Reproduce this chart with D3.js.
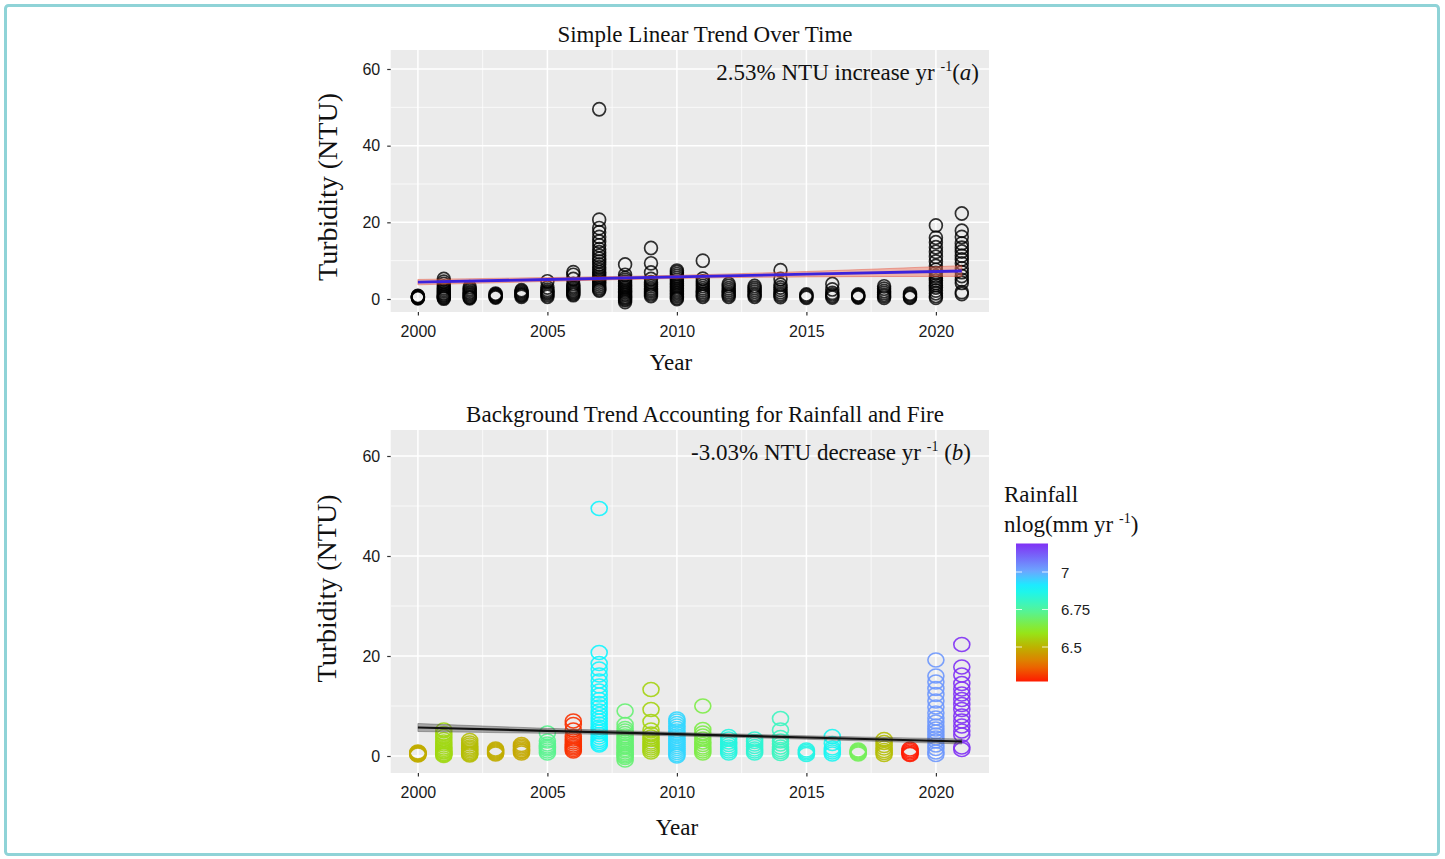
<!DOCTYPE html>
<html>
<head>
<meta charset="utf-8">
<script src="https://cdn.jsdelivr.net/npm/d3@7"></script>
<style>
  body { margin: 0; background: #fff; }
  svg { display: block; }
</style>
</head>
<body>
<svg id="chart" width="1445" height="859"></svg>
<script>
// Sampling years
const years = [2000, 2001, 2002, 2003, 2004, 2005, 2006, 2007, 2008, 2009, 2010,
               2011, 2012, 2013, 2014, 2015, 2016, 2017, 2018, 2019, 2020, 2021];

// Annual rainfall, nlog(mm yr^-1)
const rainfall = [6.49, 6.57, 6.52, 6.49, 6.48, 6.73, 6.30, 6.90, 6.70, 6.56, 6.94,
                  6.65, 6.85, 6.83, 6.80, 6.86, 6.88, 6.67, 6.52, 6.27, 7.03, 7.19];

// Turbidity samples (NTU) for each year
const turbidity = [
  [0.2, 0.3, 0.4, 0.5, 0.6, 0.7, 0.8],
  [0.1, 0.3, 0.5, 0.8, 1.0, 1.3, 1.6, 2.0, 2.4, 2.8, 3.3, 3.9, 4.5, 5.2],
  [0.2, 0.4, 0.6, 0.9, 1.2, 1.5, 1.8, 2.2, 2.6, 3.1],
  [0.4, 0.6, 0.8, 1.0, 1.2, 1.4],
  [0.6, 0.9, 1.1, 1.4, 1.7, 2.0, 2.3],
  [0.6, 1.0, 1.4, 1.7, 2.0, 2.4, 3.0, 4.6],
  [1.0, 1.3, 1.6, 1.9, 2.2, 2.6, 3.0, 3.4, 3.9, 5.2, 6.3, 7.0],
  [2.2, 2.5, 2.9, 3.3, 3.8, 4.3, 4.8, 5.3, 5.8, 6.4, 7.0, 7.6, 8.3, 9.0, 9.8,
   10.5, 11.3, 12.2, 13.0, 14.0, 15.0, 16.2, 17.4, 18.5, 20.7, 49.5],
  [-0.8, -0.3, 0.0, 0.3, 0.6, 1.0, 1.3, 1.7, 2.0, 2.4, 2.8, 3.2, 3.6, 4.0, 4.5,
   5.0, 5.5, 6.3, 9.0],
  [0.8, 1.2, 1.6, 2.0, 2.4, 2.8, 3.3, 3.8, 4.4, 5.2, 6.9, 9.3, 13.3],
  [0.0, 0.3, 0.7, 1.1, 1.5, 1.9, 2.3, 2.7, 3.1, 3.5, 4.0, 4.5, 5.0, 5.5, 6.0,
   6.5, 7.0, 7.4],
  [0.6, 1.0, 1.4, 1.8, 2.3, 2.8, 3.4, 4.0, 4.6, 5.3, 10.0],
  [0.6, 1.0, 1.4, 1.8, 2.3, 2.8, 3.4, 3.9],
  [0.6, 1.0, 1.4, 1.9, 2.4, 2.9, 3.4],
  [0.5, 0.9, 1.3, 1.8, 2.4, 3.0, 3.7, 5.2, 7.5],
  [0.3, 0.6, 0.9, 1.2],
  [0.4, 0.8, 1.2, 1.6, 2.5, 3.9],
  [0.4, 0.6, 0.8, 1.0, 1.2],
  [0.3, 0.7, 1.1, 1.6, 2.1, 2.7, 3.3],
  [0.3, 0.5, 0.8, 1.1, 1.4],
  [0.3, 0.8, 1.5, 2.2, 3.0, 3.6, 4.2, 4.8, 5.4, 6.0, 6.8, 7.6, 8.6, 9.8, 11.0,
   12.3, 13.5, 14.8, 16.0, 19.2],
  [1.3, 1.8, 4.2, 5.0, 6.0, 7.0, 8.0, 9.3, 10.3, 11.3, 12.4, 13.4, 14.5, 16.2,
   17.8, 22.3]
];

// Fitted trends with confidence bands
const trendYears = [2000, 2005, 2010, 2015, 2021];
const trendSimple = [4.4, 5.09, 5.78, 6.47, 7.3];
const bandSimple = [0.7, 0.5, 0.4, 0.7, 1.4];
const trendBackground = [5.7, 5.03, 4.37, 3.7, 2.9];
const bandBackground = [0.8, 0.5, 0.35, 0.35, 0.5];

// Axis ticks
const xTicks = [2000, 2005, 2010, 2015, 2020];
const xMinor = [2002.5, 2007.5, 2012.5, 2017.5];
const yTicks = [0, 20, 40, 60];
const yMinor = [10, 30, 50];
const legendTicks = [6.5, 6.75, 7];

// Rainbow palette, low rainfall (red) to high rainfall (violet)
const palette = ["#ff1a00", "#e87000", "#bdb300", "#94e81a", "#50f5a0", "#10f5ff", "#6aaaff", "#8030f5"];
const paletteStops = [6.27, 6.38, 6.5, 6.6, 6.75, 6.9, 7.0, 7.19];

const svg = d3.select("#chart");
const serif = "'Liberation Serif', 'Times New Roman', serif";
const sans = "'Liberation Sans', Arial, sans-serif";

// Outer frame
svg.append("rect")
  .attr("x", 5.5).attr("y", 5.5).attr("width", 1433).attr("height", 849)
  .attr("rx", 3).attr("fill", "none").attr("stroke", "#8fd3d7").attr("stroke-width", 3);

const colour = d3.scaleLinear().domain(paletteStops).range(palette).clamp(true);

const points = [];
years.forEach((yr, i) => turbidity[i].forEach(v => points.push({ year: yr, value: v, rain: rainfall[i] })));

const trend = (fit, band) => trendYears.map((yr, i) => ({ year: yr, fit: fit[i], lo: fit[i] - band[i], hi: fit[i] + band[i] }));

const panelLeft = 390.7, panelRight = 989;
const x = d3.scaleLinear().domain([2000, 2020]).range([417.9, 935.9]);

function drawPanel(cfg) {
  const g = svg.append("g");
  const y = d3.scaleLinear().domain([0, 60]).range(cfg.yRange);
  const [pTop, pBottom] = cfg.panel;

  g.append("rect")
    .attr("x", panelLeft).attr("y", pTop)
    .attr("width", panelRight - panelLeft).attr("height", pBottom - pTop)
    .attr("fill", "#ebebeb");

  // grid
  g.selectAll(".gxm").data(xMinor).join("line")
    .attr("x1", d => x(d)).attr("x2", d => x(d)).attr("y1", pTop).attr("y2", pBottom)
    .attr("stroke", "#fff").attr("stroke-width", 0.7);
  g.selectAll(".gym").data(yMinor).join("line")
    .attr("x1", panelLeft).attr("x2", panelRight).attr("y1", d => y(d)).attr("y2", d => y(d))
    .attr("stroke", "#fff").attr("stroke-width", 0.7);
  g.selectAll(".gx").data(xTicks).join("line")
    .attr("x1", d => x(d)).attr("x2", d => x(d)).attr("y1", pTop).attr("y2", pBottom)
    .attr("stroke", "#fff").attr("stroke-width", 1.5);
  g.selectAll(".gy").data(yTicks).join("line")
    .attr("x1", panelLeft).attr("x2", panelRight).attr("y1", d => y(d)).attr("y2", d => y(d))
    .attr("stroke", "#fff").attr("stroke-width", 1.5);

  // axes
  const xAxis = g.append("g").attr("transform", `translate(0,${pBottom})`)
    .call(d3.axisBottom(x).tickValues(xTicks).tickFormat(d3.format("d")).tickSize(3.5).tickPadding(7));
  const yAxis = g.append("g").attr("transform", `translate(${panelLeft},0)`)
    .call(d3.axisLeft(y).tickValues(yTicks).tickSize(3.5).tickPadding(7));
  [xAxis, yAxis].forEach(a => {
    a.select(".domain").remove();
    a.selectAll(".tick line").attr("stroke", "#333").attr("stroke-width", 1.2);
    a.selectAll(".tick text").attr("fill", "#1a1a1a").style("font-family", sans).style("font-size", "16px");
  });
  xAxis.selectAll(".tick text").attr("dy", "0.9em");

  // points
  g.append("g").selectAll("ellipse").data(points).join("ellipse")
    .attr("cx", d => x(d.year)).attr("cy", d => y(d.value))
    .attr("rx", cfg.rx).attr("ry", cfg.ry)
    .attr("fill", "none")
    .attr("stroke", d => cfg.pointColour(d))
    .attr("stroke-opacity", cfg.pointOpacity)
    .attr("stroke-width", cfg.pointWidth);

  // trend band and line
  const t = cfg.trend;
  g.append("path").datum(t)
    .attr("d", d3.area().x(d => x(d.year)).y0(d => y(d.lo)).y1(d => y(d.hi)).curve(d3.curveMonotoneX))
    .attr("fill", cfg.bandFill).attr("fill-opacity", cfg.bandOpacity)
    .attr("stroke", cfg.bandEdge).attr("stroke-opacity", 0.5).attr("stroke-width", 0.8);
  g.append("path").datum(t)
    .attr("d", d3.line().x(d => x(d.year)).y(d => y(d.fit)))
    .attr("fill", "none").attr("stroke", cfg.lineColour).attr("stroke-width", cfg.lineWidth);

  // titles
  svg.append("text").attr("x", 705).attr("y", cfg.titleY).attr("text-anchor", "middle")
    .style("font-family", serif).style("font-size", "23px").attr("fill", "#111").text(cfg.title);

  const ann = svg.append("text").attr("x", cfg.annX).attr("y", cfg.annY).attr("text-anchor", "end")
    .style("font-family", serif).style("font-size", "23px").attr("fill", "#111");
  ann.append("tspan").text(cfg.annText + " yr ");
  ann.append("tspan").attr("dy", -9).style("font-size", "14px").text("-1");
  ann.append("tspan").attr("dy", 9).text(cfg.annGap + "(");
  ann.append("tspan").style("font-style", "italic").text(cfg.annLetter);
  ann.append("tspan").text(")");

  svg.append("text")
    .attr("transform", `translate(${cfg.yTitleX},${(pTop + pBottom) / 2 + cfg.yTitleShift}) rotate(-90)`)
    .attr("text-anchor", "middle").attr("dominant-baseline", "central")
    .style("font-family", serif).style("font-size", "28px").attr("fill", "#111")
    .text("Turbidity (NTU)");

  svg.append("text").attr("x", cfg.xTitleX).attr("y", cfg.xTitleY).attr("text-anchor", "middle")
    .style("font-family", serif).style("font-size", "23px").attr("fill", "#111").text("Year");
}

drawPanel({
  panel: [50, 312], yRange: [299, 69],
  rx: 6.4, ry: 6.6, pointWidth: 1.7, pointOpacity: 0.8,
  pointColour: () => "#000",
  trend: trend(trendSimple, bandSimple),
  bandFill: "#f27a63", bandEdge: "#e0402a", bandOpacity: 0.5, lineColour: "#3b22dc", lineWidth: 2.8,
  title: "Simple Linear Trend Over Time", titleY: 42,
  annText: "2.53% NTU increase", annGap: "", annLetter: "a", annX: 979, annY: 80,
  yTitleX: 327, yTitleShift: 6, xTitleX: 671, xTitleY: 370
});

drawPanel({
  panel: [430, 773], yRange: [756, 456],
  rx: 8, ry: 7, pointWidth: 1.6, pointOpacity: 0.9,
  pointColour: d => colour(d.rain),
  trend: trend(trendBackground, bandBackground),
  bandFill: "#555", bandEdge: "#444", bandOpacity: 0.45, lineColour: "#111", lineWidth: 2.2,
  title: "Background Trend Accounting for Rainfall and Fire", titleY: 422,
  annText: "-3.03% NTU decrease", annGap: " ", annLetter: "b", annX: 971, annY: 460,
  yTitleX: 326, yTitleShift: -13, xTitleX: 677, xTitleY: 835
});

// Rainfall colour bar
const rainExtent = d3.extent(rainfall);
const barY = d3.scaleLinear().domain([6.5, 7]).range([647, 572]);
const barX = 1016, barW = 32;
const defs = svg.append("defs");
const grad = defs.append("linearGradient").attr("id", "rainGrad")
  .attr("x1", 0).attr("y1", 1).attr("x2", 0).attr("y2", 0);
d3.range(0, 1.0001, 0.05).forEach(f => {
  grad.append("stop").attr("offset", f)
    .attr("stop-color", colour(rainExtent[0] + f * (rainExtent[1] - rainExtent[0])));
});
svg.append("rect").attr("x", barX).attr("y", barY(rainExtent[1]))
  .attr("width", barW).attr("height", barY(rainExtent[0]) - barY(rainExtent[1]))
  .attr("fill", "url(#rainGrad)");
const lt = svg.append("g").selectAll("g").data(legendTicks).join("g");
lt.append("line").attr("x1", barX).attr("x2", barX + 6).attr("y1", d => barY(d)).attr("y2", d => barY(d))
  .attr("stroke", "#fff").attr("stroke-opacity", 0.8);
lt.append("line").attr("x1", barX + barW - 6).attr("x2", barX + barW).attr("y1", d => barY(d)).attr("y2", d => barY(d))
  .attr("stroke", "#fff").attr("stroke-opacity", 0.8);
lt.append("text").attr("x", barX + barW + 13).attr("y", d => barY(d)).attr("dominant-baseline", "central")
  .style("font-family", sans).style("font-size", "15px").attr("fill", "#222").text(d => d);

svg.append("text").attr("x", 1004).attr("y", 502)
  .style("font-family", serif).style("font-size", "23px").attr("fill", "#111").text("Rainfall");
const lg = svg.append("text").attr("x", 1004).attr("y", 532)
  .style("font-family", serif).style("font-size", "23px").attr("fill", "#111");
lg.append("tspan").text("nlog(mm yr ");
lg.append("tspan").attr("dy", -9).style("font-size", "14px").text("-1");
lg.append("tspan").attr("dy", 9).text(")");
</script>
</body>
</html>
